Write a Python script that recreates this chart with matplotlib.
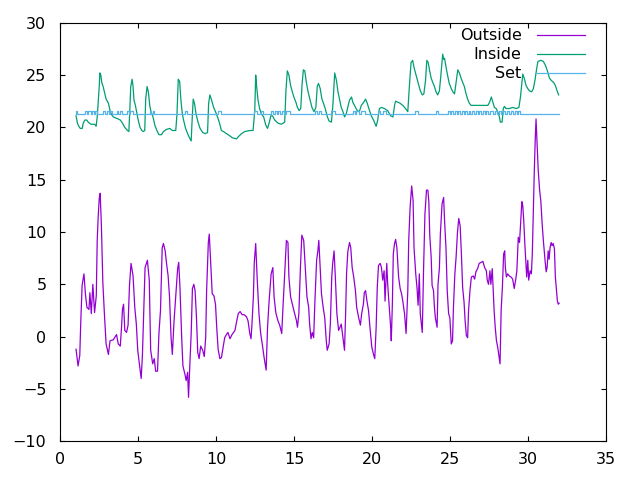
import matplotlib
matplotlib.use("Agg")
import matplotlib.pyplot as plt
from matplotlib.lines import Line2D

# outside temperature
out_x = [1.01, 1.14, 1.25, 1.31, 1.40, 1.52, 1.61, 1.71, 1.84, 1.90, 1.99, 2.09, 2.20, 2.31, 2.37,
         2.43, 2.50, 2.56, 2.64, 2.73, 2.83, 2.94, 3.09, 3.19, 3.40, 3.61, 3.72, 3.85, 3.93, 3.99,
         4.06, 4.14, 4.25, 4.35, 4.44, 4.54, 4.67, 4.78, 4.88, 4.97, 5.10, 5.19, 5.27, 5.36, 5.44,
         5.59, 5.71, 5.80, 5.93, 6.03, 6.12, 6.24, 6.33, 6.43, 6.54, 6.62, 6.73, 6.81, 6.92, 7.01,
         7.11, 7.19, 7.30, 7.43, 7.53, 7.60, 7.68, 7.79, 7.87, 8.00, 8.08, 8.17, 8.23, 8.31, 8.40,
         8.48, 8.57, 8.65, 8.74, 8.82, 8.91, 9.01, 9.14, 9.24, 9.33, 9.39, 9.50, 9.56, 9.65, 9.75,
         9.86, 9.96, 10.05, 10.13, 10.24, 10.34, 10.45, 10.55, 10.66, 10.76, 10.89, 11.02, 11.21,
         11.31, 11.42, 11.54, 11.67, 11.80, 11.95, 12.05, 12.16, 12.24, 12.30, 12.39, 12.45, 12.54,
         12.64, 12.75, 12.86, 12.96, 13.08, 13.21, 13.30, 13.40, 13.53, 13.64, 13.72, 13.83, 13.97,
         14.08, 14.21, 14.29, 14.42, 14.51, 14.61, 14.67, 14.78, 14.89, 14.99, 15.16, 15.22, 15.31,
         15.41, 15.50, 15.62, 15.73, 15.83, 15.94, 16.00, 16.09, 16.17, 16.26, 16.34, 16.45, 16.53,
         16.59, 16.68, 16.76, 16.87, 16.97, 17.07, 17.13, 17.25, 17.33, 17.42, 17.48, 17.57, 17.65,
         17.75, 17.86, 17.95, 18.03, 18.14, 18.24, 18.31, 18.37, 18.45, 18.56, 18.64, 18.73, 18.83,
         18.94, 19.02, 19.15, 19.26, 19.34, 19.45, 19.51, 19.59, 19.68, 19.78, 19.89, 19.99, 20.10,
         20.18, 20.27, 20.34, 20.42, 20.53, 20.61, 20.69, 20.78, 20.84, 20.95, 21.01, 21.14, 21.20,
         21.24, 21.31, 21.37, 21.45, 21.52, 21.60, 21.71, 21.81, 21.90, 21.98, 22.09, 22.19, 22.30,
         22.36, 22.45, 22.55, 22.64, 22.70, 22.81, 22.89, 22.96, 23.04, 23.10, 23.23, 23.31, 23.40,
         23.50, 23.59, 23.65, 23.71, 23.80, 23.86, 23.95, 24.01, 24.07, 24.18, 24.24, 24.33, 24.39,
         24.50, 24.60, 24.66, 24.75, 24.83, 24.92, 25.00, 25.09, 25.17, 25.23, 25.32, 25.40, 25.49,
         25.57, 25.66, 25.74, 25.82, 25.91, 25.98, 26.06, 26.14, 26.20, 26.29, 26.38, 26.50, 26.59,
         26.67, 26.78, 26.88, 27.01, 27.12, 27.23, 27.34, 27.40, 27.48, 27.57, 27.63, 27.72, 27.78,
         27.84, 27.91, 27.99, 28.07, 28.16, 28.22, 28.29, 28.37, 28.45, 28.52, 28.56, 28.63, 28.71,
         28.82, 28.92, 29.03, 29.13, 29.22, 29.30, 29.39, 29.47, 29.55, 29.62, 29.68, 29.74, 29.81,
         29.87, 29.93, 30.00, 30.06, 30.15, 30.23, 30.29, 30.36, 30.42, 30.48, 30.53, 30.59, 30.67,
         30.76, 30.84, 30.93, 31.01, 31.12, 31.18, 31.24, 31.31, 31.37, 31.43, 31.50, 31.56, 31.63,
         31.71, 31.77, 31.84, 31.90, 31.96, 32.01]
out_y = [-1.2, -2.8, -1.8, 1.2, 4.9, 6.0, 4.1, 2.8, 2.6, 4.2, 2.2, 5.0, 2.3, 3.9, 9.2,
         11.4, 13.2, 13.7, 10.5, 5.2, 2.2, -0.7, -1.7, -0.4, -0.3, 0.2, -0.7, -0.9, 0.9, 2.6,
         3.1, 0.6, 0.4, 1.1, 4.9, 7.0, 5.8, 2.8, 1.2, -1.3, -2.9, -4.0, -1.8, 2.8, 6.6,
         7.3, 5.4, -1.3, -2.6, -2.1, -3.3, -3.3, 0.3, 2.5, 8.5, 8.9, 8.2, 7.1, 5.8, 3.8,
         -0.1, -1.7, 1.5, 4.4, 6.5, 7.1, 4.7, -0.1, -2.8, -3.6, -4.2, -3.4, -5.8, -2.8, 0.3,
         4.6, 5.0, 4.4, 1.8, -1.5, -2.1, -0.9, -1.3, -1.9, -0.1, 4.4, 9.0, 9.8, 7.1, 4.1,
         3.9, 3.1, 0.6, -1.2, -2.1, -2.0, -1.0, -0.1, 0.2, 0.4, -0.2, 0.2, 0.6,
         1.4, 2.2, 2.4, 2.1, 2.1, 1.9, 1.5, 0.3, -0.2, 1.2, 3.8, 7.1, 8.9,
         5.4, 2.2, 0.3, -0.7, -2.0, -3.2, 0.9, 3.4, 6.0, 6.6, 3.8, 2.3, 1.5,
         1.1, 0.3, 2.8, 6.6, 9.2, 9.0, 5.7, 3.8, 3.1, 2.5, 1.5, 0.9, 2.2,
         6.6, 9.7, 9.2, 6.3, 3.8, 2.8, 1.2, -0.2, 0.4, -0.1, 3.4, 7.3, 8.2,
         9.2, 6.5, 4.1, 2.8, 1.8, -0.4, -1.3, -0.7, 1.2, 5.7, 7.0, 8.2, 5.7,
         2.2, 0.6, 0.9, 1.2, -0.1, -1.3, 2.2, 6.0, 8.1, 9.0, 8.5, 6.6, 5.7,
         4.4, 2.8, 1.8, 1.1, 2.2, 3.1, 4.2, 4.4, 3.4, 2.5, 0.6, -1.0, -1.7,
         -2.1, 0.9, 4.7, 6.8, 7.0, 6.6, 5.4, 6.3, 3.4, 7.0, 5.0, 2.2, 0.9,
         -0.4, 3.1, 7.9, 8.9, 9.3, 8.5, 5.7, 4.6, 4.1, 3.4, 2.2, 0.3, 4.4,
         9.2, 12.4, 14.4, 13.0, 8.5, 6.0, 4.7, 3.0, 6.0, 2.2, 0.4, 6.3, 11.7,
         14.0, 14.0, 12.9, 9.7, 7.6, 4.9, 4.4, 2.8, 1.8, 0.9, 5.0, 6.6, 9.8,
         12.7, 13.3, 11.1, 8.5, 4.4, 2.2, 1.8, -0.7, -0.4, 2.8, 6.0, 7.6, 10.0,
         11.3, 10.6, 7.9, 4.7, 3.3, 1.5, 0.1, -0.1, 2.5, 4.4, 5.7, 5.8, 5.5,
         6.2, 6.5, 7.0, 7.1, 7.2, 6.6, 6.3, 5.4, 5.0, 6.3, 5.0, 6.5, 4.4,
         2.5, 0.9, -0.4, -1.0, -2.0, -2.6, 2.5, 4.7, 7.9, 8.2, 6.6, 5.7, 6.0,
         5.8, 5.7, 5.5, 4.6, 5.4, 6.3, 9.5, 9.0, 11.1, 12.9, 12.5, 11.1, 8.9,
         7.3, 5.7, 7.3, 5.4, 6.3, 6.0, 7.9, 12.4, 15.9, 18.9, 20.8, 18.8, 15.9,
         14.0, 12.9, 10.6, 9.0, 7.1, 6.2, 6.6, 8.2, 7.4, 8.5, 9.0, 8.7, 8.9,
         8.4, 5.7, 4.4, 3.4, 3.1, 3.2]

# inside temperature
in_x = [1.01, 1.10, 1.19, 1.28, 1.41, 1.47, 1.58, 1.70, 1.79, 1.96, 2.20, 2.30, 2.37, 2.43, 2.50,
        2.54, 2.60, 2.66, 2.75, 2.83, 2.94, 3.09, 3.19, 3.30, 3.40, 3.55, 3.72, 3.85, 3.99, 4.14,
        4.31, 4.40, 4.46, 4.52, 4.61, 4.67, 4.73, 4.82, 4.90, 5.00, 5.12, 5.23, 5.33, 5.42, 5.48,
        5.57, 5.65, 5.74, 5.82, 5.95, 6.07, 6.20, 6.33, 6.50, 6.62, 6.81, 7.03, 7.19, 7.41, 7.49,
        7.57, 7.66, 7.74, 7.83, 7.91, 8.04, 8.17, 8.29, 8.40, 8.46, 8.53, 8.61, 8.71, 8.84, 8.97,
        9.14, 9.30, 9.45, 9.52, 9.60, 9.71, 9.84, 9.96, 10.09, 10.22, 10.34, 10.47, 10.66, 10.87,
        11.04, 11.31, 11.42, 11.63, 11.84, 12.16, 12.37, 12.48, 12.54, 12.60, 12.69, 12.79, 12.90,
        13.05, 13.19, 13.30, 13.40, 13.51, 13.62, 13.76, 13.97, 14.19, 14.40, 14.48, 14.57, 14.67,
        14.78, 14.89, 14.99, 15.12, 15.22, 15.33, 15.43, 15.52, 15.60, 15.69, 15.79, 15.90, 16.02,
        16.15, 16.28, 16.40, 16.49, 16.57, 16.68, 16.79, 16.89, 17.00, 17.14, 17.25, 17.40, 17.50,
        17.61, 17.72, 17.82, 17.93, 18.03, 18.14, 18.24, 18.35, 18.45, 18.56, 18.69, 18.77, 18.88,
        18.98, 19.11, 19.21, 19.32, 19.47, 19.59, 19.70, 19.80, 19.96, 20.10, 20.27, 20.37, 20.48,
        20.61, 20.80, 21.01, 21.20, 21.35, 21.45, 21.52, 21.66, 21.81, 21.98, 22.15, 22.30, 22.40,
        22.51, 22.61, 22.72, 22.83, 22.96, 23.10, 23.23, 23.33, 23.44, 23.52, 23.61, 23.69, 23.80,
        23.90, 24.01, 24.11, 24.22, 24.33, 24.43, 24.54, 24.60, 24.66, 24.75, 24.85, 24.96, 25.09,
        25.19, 25.30, 25.40, 25.51, 25.61, 25.72, 25.82, 25.93, 26.04, 26.14, 26.25, 26.36, 27.12,
        27.44, 27.55, 27.66, 27.76, 27.86, 27.97, 28.07, 28.18, 28.24, 28.35, 28.43, 28.50, 28.60,
        28.82, 29.03, 29.26, 29.43, 29.53, 29.62, 29.68, 29.77, 29.89, 30.00, 30.10, 30.25, 30.36,
        30.46, 30.57, 30.65, 30.84, 31.00, 31.14, 31.28, 31.39, 31.50, 31.65, 31.77, 31.88, 31.98]
in_y = [21.1, 20.4, 20.1, 19.9, 19.9, 20.4, 20.7, 20.7, 20.5, 20.3, 20.3, 20.1, 21.0, 22.3, 23.9,
        25.2, 25.0, 24.3, 23.9, 23.4, 22.7, 22.3, 21.6, 21.2, 21.0, 20.9, 20.8, 20.7, 20.4, 20.0,
        19.7, 19.6, 21.6, 23.9, 24.6, 23.9, 22.6, 22.1, 21.5, 20.7, 20.0, 19.7, 19.6, 19.7, 22.7,
        23.9, 23.4, 22.1, 21.5, 21.0, 20.2, 19.7, 19.3, 19.3, 19.6, 19.8, 19.9, 19.7, 19.7, 21.3,
        24.6, 24.4, 22.6, 21.3, 20.7, 19.9, 19.4, 19.0, 18.7, 20.7, 22.7, 22.3, 21.3, 20.5, 19.9,
        19.5, 19.4, 19.5, 22.3, 23.1, 22.6, 21.9, 21.5, 21.0, 20.4, 19.7, 19.6, 19.4, 19.2,
        19.0, 18.9, 19.1, 19.4, 19.6, 19.7, 19.7, 21.6, 25.0, 23.9, 22.6, 21.8, 21.3,
        21.0, 20.2, 19.9, 20.4, 21.1, 21.1, 20.7, 20.4, 20.3, 20.5, 23.5, 25.4, 25.0,
        24.0, 23.4, 22.9, 22.4, 21.9, 21.6, 21.8, 24.2, 25.5, 25.4, 24.3, 23.4, 22.7,
        21.9, 21.5, 21.9, 23.9, 24.2, 23.7, 22.7, 22.3, 21.8, 21.0, 20.6, 20.5, 22.3,
        25.2, 24.5, 23.4, 22.6, 21.9, 21.5, 21.0, 21.3, 21.9, 22.6, 22.9, 22.4, 22.1,
        21.8, 21.5, 21.6, 22.1, 22.4, 22.7, 22.3, 21.8, 21.1, 20.7, 20.1, 20.7, 21.8,
        21.9, 21.8, 21.6, 21.1, 21.0, 22.1, 22.5, 22.4, 22.3, 22.1, 21.8, 21.5, 23.9,
        26.2, 26.4, 25.6, 25.0, 24.3, 23.5, 23.1, 23.2, 24.5, 26.4, 26.2, 25.5, 24.7,
        24.3, 23.9, 23.4, 23.1, 23.5, 25.1, 27.0, 26.5, 26.6, 25.8, 25.0, 24.2, 23.7,
        23.4, 23.2, 24.3, 25.5, 25.2, 24.7, 24.3, 23.9, 23.2, 22.7, 22.3, 22.1, 22.1,
        22.1, 22.4, 22.9, 22.4, 21.9, 21.8, 21.5, 21.0, 20.5, 20.5, 21.8, 22.0, 21.8,
        21.8, 21.9, 21.8, 21.9, 22.9, 24.2, 25.1, 24.7, 24.0, 23.7, 23.5, 23.4, 23.7,
        24.5, 25.6, 26.3, 26.4, 26.3, 25.9, 25.3, 24.7, 24.5, 24.3, 24.0, 23.5, 23.1]

# set point: base level with short raised blips
set_start = 1.01
set_end = 32.0
set_low = 21.32
set_high = 21.52
set_blips = [(1.01, 1.10), (1.58, 1.70), (1.80, 1.95), (2.05, 2.15), (2.22, 2.33),
             (2.76, 2.90), (3.00, 3.10), (3.18, 3.29), (3.61, 3.70), (3.80, 3.94),
             (4.26, 4.40), (4.50, 4.68), (5.75, 5.85), (5.93, 6.03), (7.99, 8.10),
             (10.13, 10.30), (12.44, 12.60), (12.85, 13.01), (13.55, 13.65), (13.75, 13.90),
             (14.00, 14.10), (14.20, 14.35), (14.50, 14.72), (16.33, 16.45), (16.60, 16.76),
             (17.40, 17.60), (18.78, 18.90), (19.00, 19.15), (19.30, 19.53), (20.38, 20.50),
             (20.70, 20.92), (22.74, 22.95), (24.13, 24.23), (24.87, 25.00), (25.10, 25.20),
             (25.30, 25.45), (25.55, 25.65), (25.75, 25.90), (26.00, 26.10), (26.20, 26.30),
             (26.45, 26.55), (26.65, 26.80), (26.90, 27.00), (27.10, 27.25), (27.35, 27.45),
             (27.55, 27.76), (27.91, 28.05), (28.15, 28.30), (28.40, 28.55), (28.65, 28.80),
             (28.90, 29.05), (29.15, 29.30), (29.38, 29.47)]

set_x = [set_start]
set_y = [set_low]
for s, e in set_blips:
    set_x += [s, e]
    set_y += [set_high, set_low]
set_x.append(set_end)
set_y.append(set_low)

c_out = "#9400d3"
c_in = "#009e73"
c_set = "#56b4e9"

plt.rcParams["font.family"] = "DejaVu Sans"
fig = plt.figure(figsize=(6.4, 4.8), dpi=100)
ax = fig.add_axes([0.0942, 0.0806, 0.8522, 0.8721])

ax.plot(out_x, out_y, color=c_out, lw=0.9)
ax.plot(in_x, in_y, color=c_in, lw=0.9)
ax.plot(set_x, set_y, color=c_set, lw=0.9, drawstyle="steps-post")

ax.set_xlim(0, 35)
ax.set_ylim(-10, 30)
ax.set_xticks(range(0, 36, 5))
ax.set_yticks(range(-10, 31, 5))
ax.tick_params(direction="in", length=3.5, width=0.8, top=True, right=True,
               labelsize=11.5, colors="black")
ax.tick_params(axis="y", pad=10)
ax.tick_params(axis="x", pad=8)
for sp in ax.spines.values():
    sp.set_linewidth(0.8)

# gnuplot-style key: label right-aligned, sample to its right
names = ["Outside", "Inside", "Set"]
colors = [c_out, c_in, c_set]
rows = [0.9706, 0.925, 0.879]
for name, col, ry in zip(names, colors, rows):
    ax.text(0.846, ry, name, transform=ax.transAxes, ha="right", va="center", fontsize=11.5)
    ax.add_line(Line2D([0.874, 0.962], [ry, ry], transform=ax.transAxes, color=col, lw=0.9))

fig.savefig("out.png", dpi=100)
